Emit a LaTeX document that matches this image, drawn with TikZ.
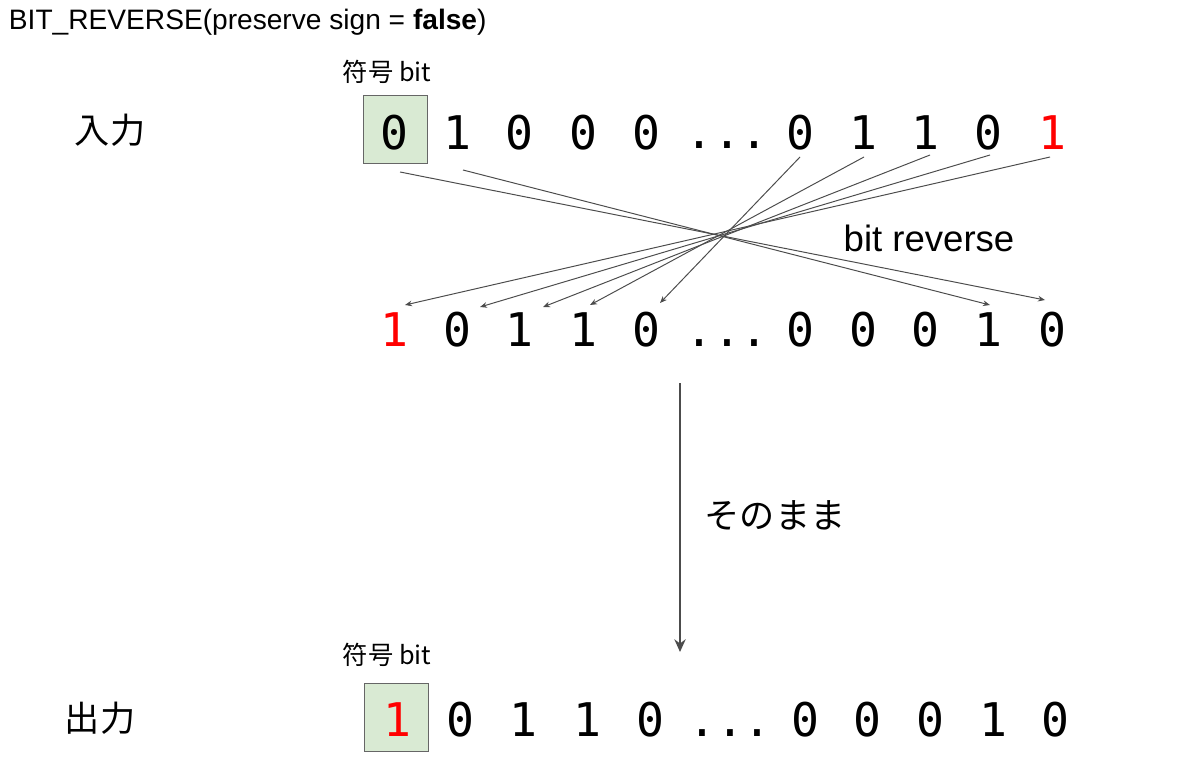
\documentclass[tikz,border=0pt]{standalone}
\usetikzlibrary{arrows.meta}
\usepackage{fontspec}
\setmainfont{Liberation Sans}
\newfontfamily\cjk{Noto Sans CJK JP}
\newfontfamily\monof{DejaVu Sans Mono}
\begin{document}
\begin{tikzpicture}[x=0.025cm,y=-0.025cm,
  bitn/.style={font=\monof\fontsize{33}{36}\selectfont,inner sep=0pt},
  redbit/.style={bitn,text=red},
  dotsn/.style={font=\monof\fontsize{33}{36}\selectfont,inner sep=0pt,anchor=base},
  signbox/.style={draw=gray!80!black,fill={rgb,255:red,217;green,234;blue,211},minimum width=64*0.025cm,minimum height=68*0.025cm},
  link/.style={draw=black!70,line width=0.7pt,-{Stealth[length=5pt,width=4pt]}},
  bigarrow/.style={draw=black!70,line width=1.5pt,-{Stealth[length=9pt,width=8pt]}},
  lab/.style={font=\cjk\fontsize{25}{28}\selectfont},
  small/.style={font=\cjk\fontsize{18}{20}\selectfont}]
\useasboundingbox (0,0) rectangle (1200,774);
\node[anchor=west,font=\fontsize{20}{22}\selectfont] (title) at (4,22) {BIT\_REVERSE(preserve sign = \textbf{false})};
\node[signbox] (box1) at (395,129) {};
\node[signbox] (box2) at (396,717) {};
\node[small] (s1) at (387,72) {符号 bit};
\node[small] (s2) at (387,655) {符号 bit};
\node[lab] (in) at (110,130) {入力};
\node[lab] (out) at (100,718) {出力};
% input row
\foreach \x/\b/\n in {394/0/i1,457/1/i2,519/0/i3,583/0/i4,646/0/i5,800/0/i6,863/1/i7,925/1/i8,988/0/i9}
  \node[bitn] (\n) at (\x,133) {\b};
\node[redbit] (i10) at (1052,133) {1};
\node[dotsn] (idots) at (727,149) {...};
% reversed row
\node[redbit] (r1) at (394,330) {1};
\foreach \x/\b/\n in {457/0/r2,519/1/r3,583/1/r4,646/0/r5,800/0/r6,863/0/r7,925/0/r8,988/1/r9,1052/0/r10}
  \node[bitn] (\n) at (\x,330) {\b};
\node[dotsn] (rdots) at (727,346) {...};
% output row
\node[redbit] (o1) at (397,720) {1};
\foreach \x/\b/\n in {460/0/o2,523/1/o3,587/1/o4,650/0/o5,805/0/o6,867/0/o7,930/0/o8,993/1/o9,1055/0/o10}
  \node[bitn] (\n) at (\x,720) {\b};
\node[dotsn] (odots) at (730,736) {...};
% links
\coordinate (a1) at (400,172); \coordinate (b1) at (1045,300);
\coordinate (a2) at (463,170); \coordinate (b2) at (990,305);
\coordinate (a3) at (800,157); \coordinate (b3) at (660,303);
\coordinate (a4) at (864,157); \coordinate (b4) at (590,305);
\coordinate (a5) at (930,155); \coordinate (b5) at (543,307);
\coordinate (a6) at (990,155); \coordinate (b6) at (480,307);
\coordinate (a7) at (1050,157); \coordinate (b7) at (405,305);
\foreach \k in {1,...,7} \draw[link] (a\k) -- (b\k);
\node[font=\fontsize{26}{28}\selectfont] (br) at (929,238) {bit reverse};
\coordinate (v1) at (680,383); \coordinate (v2) at (680,652);
\draw[bigarrow] (v1) -- (v2);
\node[lab] (same) at (775,515) {そのまま};
\end{tikzpicture}
\end{document}
